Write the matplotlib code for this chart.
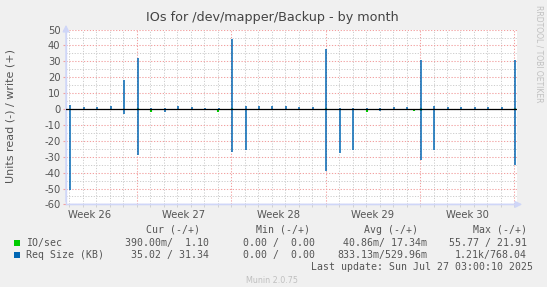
import matplotlib
matplotlib.use("Agg")
import matplotlib.pyplot as plt
from matplotlib.patches import Rectangle

# x axis is in days, 0 = Sun Jul 27 00:00 (weeks start on Sunday)
x_range = (-33.25, 0.19)
y_range = (-60, 50)
week_edges = [-28, -21, -14, -7, 0]
week_centers = [-31.5, -24.5, -17.5, -10.5, -3.5]
week_labels = ["Week 26", "Week 27", "Week 28", "Week 29", "Week 30"]

# Req Size (KB): one burst per day, shortly after midnight
req_days = list(range(-33, 1))
req_write = [2.5, 1.0, 1.0, 2.0, 18.0, 32.0, 0.5, 0.5, 2.0, 1.0, 0.5, 0.5,
             44.0, 2.0, 2.0, 2.0, 2.0, 1.0, 1.0, 38.0, 0.5, 0.5, 0.5, 0.5,
             1.0, 1.0, 31.0, 2.0, 1.0, 1.0, 1.0, 1.0, 1.0, 31.0]
req_read = [-51.0, 0.0, 0.0, -0.5, -3.0, -29.0, 0.0, -2.0, 0.0, 0.0, 0.0, 0.0,
            -27.0, -26.0, 0.0, 0.0, 0.0, 0.0, 0.0, -39.0, -27.5, -26.0, 0.0, -1.0,
            0.0, 0.0, -32.0, -26.0, 0.0, 0.0, 0.0, 0.0, 0.0, -35.0]

# IO/sec: only a few tiny blips are visible
io_times = [-27.94, -27.39, -26.94, -22.35, -21.96, -20.94, -13.94, -10.91, -7.43, -6.94, 0.06]
io_write = [0.8, 0.0, 0.0, 0.0, 0.0, 0.8, 0.8, 0.0, 0.0, 0.5, 0.8]
io_read = [0.0, -0.8, -1.8, -0.8, -1.8, 0.0, 0.0, -1.8, -1.5, -1.5, 0.0]

# legend table
series_names = ["IO/sec", "Req Size (KB)"]
series_colors = ["#00CC00", "#0066B3"]
stat_headers = ["Cur (-/+)", "Min (-/+)", "Avg (-/+)", "Max (-/+)"]
stat_values = [
    ["390.00m/  1.10", "0.00 /  0.00", "40.86m/ 17.34m", "55.77 / 21.91"],
    ["35.02 / 31.34", "0.00 /  0.00", "833.13m/529.96m", "1.21k/768.04"],
]
last_update = "Last update: Sun Jul 27 03:00:10 2025"

W, H = 547, 287
fig = plt.figure(figsize=(W / 100, H / 100), dpi=100, facecolor="#F0F0F0")

px_l, px_r, px_t, px_b = 66, 517, 29.6, 204.4
ax = fig.add_axes([px_l / W, 1 - px_b / H, (px_r - px_l) / W, (px_b - px_t) / H])
ax.set_facecolor("white")
ax.set_xlim(*x_range)
ax.set_ylim(*y_range)

# grid: grey dotted for days / every 5, red dotted for weeks / every 10
grey, red = "#CCCCCC", "#F2A0A0"
dots = (0, (1.2, 1.6))
for d in range(-33, 1):
    if d not in week_edges:
        ax.axvline(d, color=grey, lw=0.7, ls=dots, zorder=1)
for d in week_edges:
    ax.axvline(d, color=red, lw=0.75, ls=dots, zorder=1)
for v in range(-60, 51, 5):
    if v % 10:
        ax.axhline(v, color=grey, lw=0.7, ls=dots, zorder=1)
    else:
        ax.axhline(v, color=red, lw=0.75, ls=dots, zorder=1)

# data
spike_t = [d + 0.06 for d in req_days]
ax.vlines(io_times, 0, io_write, color=series_colors[0], lw=1.5, zorder=3)
ax.vlines(io_times, io_read, 0, color=series_colors[0], lw=1.5, zorder=3)
ax.vlines(spike_t, 0, req_write, color=series_colors[1], lw=1.1, zorder=4)
ax.vlines(spike_t, req_read, 0, color=series_colors[1], lw=1.1, zorder=4)
ax.axhline(0, color="black", lw=0.9, zorder=5)

# axes look
axis_col = "#CFD6F8"
for s in ["top", "right"]:
    ax.spines[s].set_visible(False)
for s in ["left", "bottom"]:
    ax.spines[s].set_color(axis_col)
    ax.spines[s].set_linewidth(1.0)
ax.annotate("", xy=(px_l / W, 1 - 22 / H), xytext=(px_l / W, 1 - px_b / H),
            xycoords="figure fraction",
            arrowprops=dict(arrowstyle="-|>,head_width=0.2,head_length=0.4",
                            color=axis_col, lw=1.0))
ax.annotate("", xy=(525 / W, 1 - px_b / H), xytext=(px_l / W, 1 - px_b / H),
            xycoords="figure fraction",
            arrowprops=dict(arrowstyle="-|>,head_width=0.2,head_length=0.4",
                            color=axis_col, lw=1.0))

txt = "#555555"
ax.set_yticks(range(-60, 51, 10))
ax.set_yticklabels([str(v) for v in range(-60, 51, 10)], fontsize=7.2, color=txt)
ax.set_xticks(week_centers)
ax.set_xticklabels(week_labels, fontsize=7.2, color=txt)
ax.set_xticks(range(-33, 1), minor=True)
ax.tick_params(axis="x", which="major", length=0, pad=4)
ax.tick_params(axis="x", which="minor", length=2, color=grey)
ax.tick_params(axis="y", length=2, color=red, pad=2)
fig.text(11 / W, 1 - 116 / H, "Units read (-) / write (+)", rotation=90,
         ha="center", va="center", fontsize=8, color=txt)

fig.text(272 / W, 1 - 18 / H, "IOs for /dev/mapper/Backup - by month",
         ha="center", va="center", fontsize=9.2, color="#444444")
fig.text(539 / W, 1 - 5 / H, "RRDTOOL / TOBI OETIKER", rotation=270,
         ha="center", va="top", fontsize=5.5, color="#C0C0C0")

# legend block in monospace
mono = dict(family="DejaVu Sans Mono", fontsize=7.1, color=txt, va="center")
header_x = [146.5, 255.7, 364.5, 472.6]
col_right = [209.3, 315, 427, 526.7]
for hx, h in zip(header_x, stat_headers):
    fig.text(hx / W, 1 - 230 / H, h, ha="left", **mono)
row_y = [242.7, 255]
for ry, name, col, vals in zip(row_y, series_names, series_colors, stat_values):
    fig.patches.append(Rectangle((14 / W, 1 - (ry + 3) / H), 6 / W, 6 / H,
                                 transform=fig.transFigure, facecolor=col,
                                 edgecolor="none"))
    fig.text(26 / W, 1 - ry / H, name, ha="left", **mono)
    for cx, v in zip(col_right, vals):
        fig.text(cx / W, 1 - ry / H, v, ha="right", **mono)
fig.text(532.6 / W, 1 - 267 / H, last_update, ha="right", **mono)
fig.text(272 / W, 1 - 280.5 / H, "Munin 2.0.75", ha="center", va="center",
         fontsize=5.8, color="#C0C0C0")

fig.savefig("out.png", dpi=100, facecolor=fig.get_facecolor())
